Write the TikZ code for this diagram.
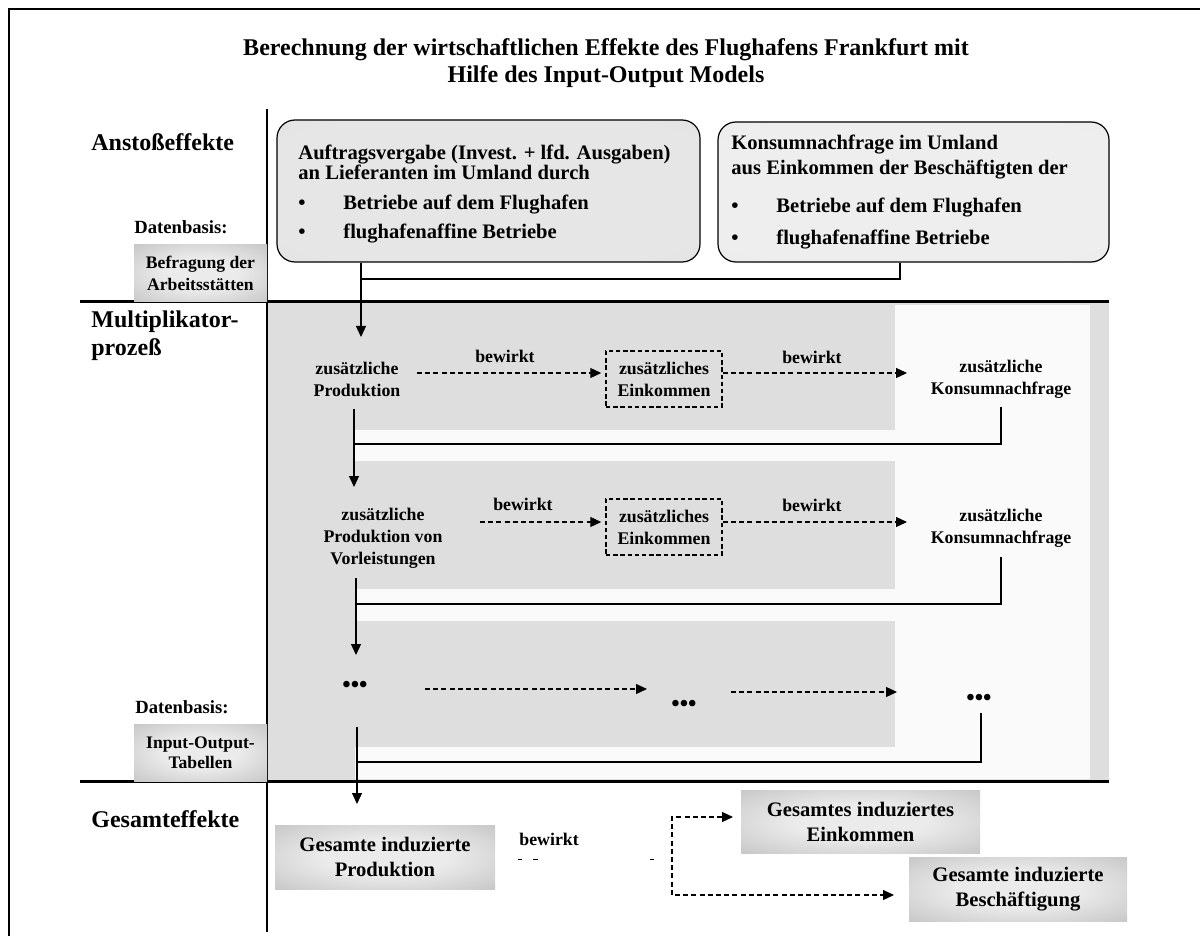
\documentclass[tikz,border=0pt]{standalone}
\usepackage{fontspec}
\setmainfont{Liberation Serif}
\usetikzlibrary{arrows.meta}
\definecolor{regiongray}{HTML}{DEDEDE}
\definecolor{stripwhite}{HTML}{FAFAFA}
\definecolor{gbin}{HTML}{EBEBEB}
\definecolor{gbout}{HTML}{B0B0B0}
\definecolor{rain}{HTML}{E6E6E6}
\definecolor{raout}{HTML}{DADADA}
\definecolor{rbin}{HTML}{EEEEEE}
\definecolor{rbout}{HTML}{E5E5E5}
\pgfdeclareradialshading{boxshade}{\pgfpoint{0bp}{0bp}}{color(0bp)=(gbin); color(14bp)=(gbin); color(50bp)=(gbout); color(72bp)=(gbout)}
\pgfdeclareradialshading{roundshadea}{\pgfpoint{0bp}{0bp}}{color(0bp)=(rain); color(30bp)=(rain); color(50bp)=(raout); color(72bp)=(raout)}
\pgfdeclareradialshading{roundshadeb}{\pgfpoint{0bp}{0bp}}{color(0bp)=(rbin); color(30bp)=(rbin); color(50bp)=(rbout); color(72bp)=(rbout)}
\newcommand\fsz[2]{\fontsize{#1}{#2}\selectfont\bfseries}
\newcommand\bul{\makebox[22.5pt][l]{•}}
\tikzset{
  ttl/.style={font=\fsz{12pt}{13.5pt}, align=center, inner sep=0pt},
  seclab/.style={font=\fsz{12pt}{14pt}, align=left, inner sep=0pt, anchor=west},
  btxta/.style={font=\fsz{10.3pt}{10pt}, align=left, inner sep=0pt, anchor=west},
  btxtb/.style={font=\fsz{10.3pt}{12.5pt}, align=left, inner sep=0pt, anchor=west},
  mtx/.style={font=\fsz{8.9pt}{11pt}, align=center, inner sep=0pt},
  dbx/.style={font=\fsz{9.3pt}{11pt}, inner sep=0pt},
  gbx/.style={shading=boxshade, align=center, inner sep=0pt},
  gtxtsmall/.style={font=\fsz{8.8pt}{11pt}},
  gtxtsmallb/.style={font=\fsz{8.8pt}{10pt}},
  gtxtbig/.style={font=\fsz{10.3pt}{12.5pt}},
  rbox/.style={draw, line width=0.6pt, rounded corners=9pt, inner sep=0pt},
  dashbox/.style={draw, line width=0.75pt, dash pattern=on 2.2pt off 1.4pt, minimum width=58pt, minimum height=28pt},
  dotsnode/.style={font=\fsz{12pt}{14pt}, inner sep=0pt},
  conn/.style={line width=0.6pt},
  arr/.style={conn, -{Triangle[length=5.5pt,width=5pt]}},
  darr/.style={line width=0.6pt, dash pattern=on 2.5pt off 1.6pt, -{Triangle[length=5.5pt,width=5pt]}},
  dboth/.style={line width=0.6pt, dash pattern=on 2.5pt off 1.6pt, {Triangle[length=5.5pt,width=5pt]}-{Triangle[length=5.5pt,width=5pt]}},
}
\begin{document}
\begin{tikzpicture}[x=0.5pt,y=-0.5pt]
\useasboundingbox (0,0) rectangle (1200,936);
\fill[white] (0,0) rectangle (1200,936);

% multiplier region backgrounds
\fill[regiongray] (267,302) rectangle (1109,781);
\fill[stripwhite] (355,305) rectangle (1090,779);
\fill[regiongray] (355,302) rectangle (895,430);
\fill[regiongray] (355,461) rectangle (895,589);
\fill[regiongray] (355,621) rectangle (895,747);

% frame and grid lines
\draw[line width=1.2pt] (9,936) -- (9,9) -- (1200,9);
\draw[line width=1.5pt] (80,302) -- (1109,302);
\draw[line width=1.5pt] (80,781) -- (1109,781);
\draw[line width=1.3pt] (267,109) -- (267,932);

% title
\node[ttl] (title) at (606,63.5) {Berechnung der wirtschaftlichen Effekte des Flughafens Frankfurt mit\\Hilfe des Input-Output Models};

% section labels
\node[seclab] (anst) at (91,142) {Anstoßeffekte};
\node[seclab] (multi) at (91,336) {Multiplikator-\\prozeß};
\node[seclab] (gesamt) at (91,819) {Gesamteffekte};

% data bases
\node[dbx] (db1) at (181,227) {Datenbasis:};
\node[gbx, gtxtsmall, minimum width=66.5pt, minimum height=28.5pt] (befr) at (200.5,273.5) {Befragung der\\Arbeitsstätten};
\node[dbx] (db2) at (182,707) {Datenbasis:};
\node[gbx, gtxtsmallb, minimum width=66.5pt, minimum height=28.5pt] (iot) at (200.5,752.5) {Input-Output-\\Tabellen};

% impulse boxes
\node[rbox, shading=roundshadea, minimum width=211.5pt, minimum height=71pt] (box1) at (488.5,191) {};
\node[btxta] (b1h) at (298,162) {Auftragsvergabe (Invest. + lfd. Ausgaben)\\an Lieferanten im Umland durch};
\node[btxta] (b1a) at (298,205) {\bul Betriebe auf dem Flughafen};
\node[btxta] (b1b) at (298,234) {\bul flughafenaffine Betriebe};

\node[rbox, shading=roundshadeb, minimum width=195.5pt, minimum height=70pt] (box2) at (913.5,192) {};
\node[btxtb] (b2h) at (731,157.5) {Konsumnachfrage im Umland\\aus Einkommen der Beschäftigten der};
\node[btxta] (b2a) at (731,208) {\bul Betriebe auf dem Flughafen};
\node[btxta] (b2b) at (731,240) {\bul flughafenaffine Betriebe};

% multiplier row 1
\node[mtx] (p1) at (357,379) {zusätzliche\\Produktion};
\node[mtx, dashbox] (e1) at (664,379) {zusätzliches\\Einkommen};
\node[mtx] (k1) at (1001,379.5) {zusätzliche\\Konsumnachfrage};
\node[mtx] (bw1) at (505,356) {bewirkt};
\node[mtx] (bw2) at (812,357) {bewirkt};

% multiplier row 2
\node[mtx] (p2) at (383,538.5) {zusätzliche\\Produktion von\\Vorleistungen};
\node[mtx, dashbox] (e2) at (664,527) {zusätzliches\\Einkommen};
\node[mtx] (k2) at (1001,528) {zusätzliche\\Konsumnachfrage};
\node[mtx] (bw3) at (523,504) {bewirkt};
\node[mtx] (bw4) at (812,505) {bewirkt};

% multiplier row 3
\node[dotsnode] (d1) at (355,687) {•••};
\node[dotsnode] (d2) at (684,706) {•••};
\node[dotsnode] (d3) at (979,700) {•••};

% total effects
\node[gbx, gtxtbig, minimum width=110pt, minimum height=32pt] (gprod) at (385,857) {Gesamte induzierte\\Produktion};
\node[gbx, gtxtbig, minimum width=119.5pt, minimum height=31.5pt] (gein) at (860.5,821.5) {Gesamtes induziertes\\Einkommen};
\node[gbx, gtxtbig, minimum width=109pt, minimum height=32pt] (gbes) at (1018,889) {Gesamte induzierte\\Beschäftigung};
\node[mtx, anchor=west] (bw5) at (519,839) {bewirkt};

% coordinates for connector ends
\coordinate (t1) at (361,337);
\coordinate (j1) at (361,279);
\coordinate (j2) at (900,279);
\coordinate (c1) at (354,409);
\coordinate (t2) at (354,487);
\coordinate (c2) at (1001,407);
\coordinate (c3) at (354,444);
\coordinate (c4) at (356,578);
\coordinate (t3) at (356,655);
\coordinate (c5) at (1001,557);
\coordinate (c6) at (356,604);
\coordinate (c7) at (357,727);
\coordinate (t4) at (357,804);
\coordinate (c8) at (981,713);
\coordinate (c9) at (357,762);

% solid connectors
\draw[arr] (box1.south -| t1) -- (t1);
\draw[conn] (box2.south -| j2) -- (j2) -- (j1);
\draw[arr] (c1) -- (t2);
\draw[conn] (c2) |- (c3);
\draw[arr] (c4) -- (t3);
\draw[conn] (c5) |- (c6);
\draw[arr] (c7) -- (t4);
\draw[conn] (c8) |- (c9);

% dashed arrows
\coordinate (r1a) at (417,373);
\coordinate (r1b) at (907,373);
\coordinate (r2a) at (480,522);
\coordinate (r2b) at (907,522);
\draw[darr] (r1a) -- ([xshift=-2pt]r1a -| e1.west);
\draw[darr] (r1a -| e1.east) -- (r1b);
\draw[darr] (r2a) -- ([xshift=-2pt]r2a -| e2.west);
\draw[darr] (r2a -| e2.east) -- (r2b);
\coordinate (r3a) at (425,689);
\coordinate (r3b) at (647,689);
\coordinate (r3c) at (731,692);
\coordinate (r3d) at (897,692);
\draw[darr] (r3a) -- (r3b);
\draw[darr] (r3c) -- (r3d);

% bottom dashed fork
\coordinate (ge1) at (733,817);
\coordinate (v2) at (672,895);
\coordinate (gb1) at (894,895);
\draw[dboth] (ge1) -| (v2) -- (gb1);

% remnant dashes
\draw[line width=0.5pt] (518,859) -- (522,859);
\draw[line width=0.5pt] (533,859) -- (538,859);
\draw[line width=0.5pt] (650,859) -- (654,859);
\end{tikzpicture}
\end{document}
